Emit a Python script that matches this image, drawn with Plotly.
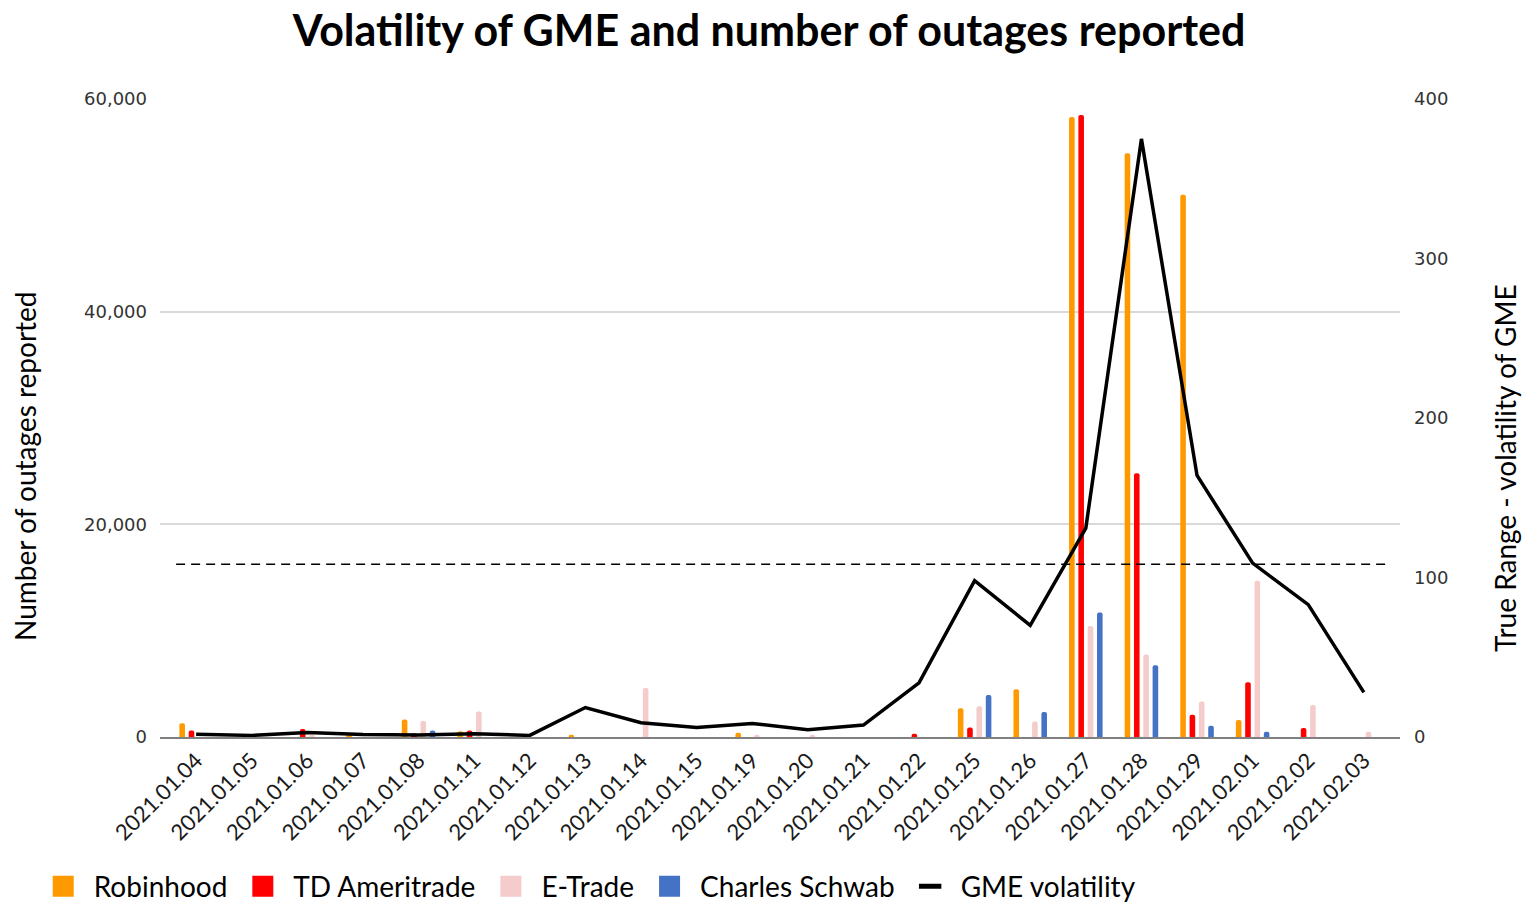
import plotly.graph_objects as go

dates = ["2021.01.04", "2021.01.05", "2021.01.06", "2021.01.07", "2021.01.08", "2021.01.11",
         "2021.01.12", "2021.01.13", "2021.01.14", "2021.01.15", "2021.01.19", "2021.01.20",
         "2021.01.21", "2021.01.22", "2021.01.25", "2021.01.26", "2021.01.27", "2021.01.28",
         "2021.01.29", "2021.02.01", "2021.02.02", "2021.02.03"]

robinhood = [1300, 0, 0, 300, 1650, 550, 0, 200, 0, 0, 400, 0, 0, 0, 2700, 4500,
             58300, 54900, 51000, 1600, 0, 0]
td_ameritrade = [600, 0, 750, 0, 350, 600, 0, 0, 0, 0, 0, 0, 0, 300, 900, 0,
                 58500, 24800, 2100, 5150, 850, 0]
etrade = [0, 0, 100, 0, 1500, 2400, 0, 0, 4600, 0, 200, 200, 0, 0, 2900, 1450,
          10450, 7750, 3350, 14700, 3000, 500]
schwab = [0, 0, 0, 0, 600, 0, 0, 0, 0, 0, 0, 0, 0, 0, 3950, 2350,
          11700, 6750, 1050, 500, 0, 0]
gme_volatility = [1.7, 1, 2.8, 1.5, 1.3, 2, 1, 18.5, 9, 6, 8.5, 4.5, 7.5, 34, 98, 70,
                  131, 375, 164, 109, 83, 28]
threshold = 16250

left_ticks = [0, 20000, 40000, 60000]
right_ticks = [0, 100, 200, 300, 400]

series = [("Robinhood", robinhood, "#FF9900"),
          ("TD Ameritrade", td_ameritrade, "#FF0000"),
          ("E-Trade", etrade, "#F4CCCC"),
          ("Charles Schwab", schwab, "#4472C4")]

FONT = "Lato"
TICK_FONT = "DejaVu Sans"

fig = go.Figure()
for name, vals, col in series:
    fig.add_trace(go.Bar(x=dates, y=vals, name=name, showlegend=False,
                         marker=dict(color=col, line=dict(width=0))))

fig.add_trace(go.Scatter(x=dates, y=gme_volatility, name="GME volatility", yaxis="y2",
                         mode="lines", showlegend=False, line=dict(color="black", width=3.5)))

# legend entries (larger square swatches, like the original)
for name, vals, col in series:
    fig.add_trace(go.Scatter(x=[None], y=[None], name=name, mode="markers",
                             marker=dict(symbol="square", size=16, color=col,
                                         line=dict(color=col, width=5))))
fig.add_trace(go.Scatter(x=[None], y=[None], name="GME volatility", mode="markers",
                         marker=dict(symbol="line-ew", size=18,
                                     line=dict(color="black", width=6))))

fig.add_shape(type="line", xref="x", yref="y", x0=-0.36, x1=21.44, y0=threshold, y1=threshold,
              line=dict(color="black", width=1.5, dash="9px,6px"))

fig.add_annotation(text="Number of outages reported", xref="paper", yref="paper",
                   x=-0.1089, y=0.4248, xanchor="center", yanchor="middle", textangle=-90,
                   showarrow=False, font=dict(family=FONT, size=28, color="black"))
fig.add_annotation(text="True Range - volatility of GME", xref="paper", yref="paper",
                   x=1.0847, y=0.4216, xanchor="center", yanchor="middle", textangle=-90,
                   showarrow=False, font=dict(family=FONT, size=28, color="black"))

fig.update_layout(
    width=1522, height=905,
    paper_bgcolor="white", plot_bgcolor="white",
    margin=dict(l=160, r=122, t=99, b=168),
    barmode="group", bargap=0.33, bargroupgap=0.4, barcornerradius=3,
    title=dict(text="<b>Volatility of GME and number of outages reported</b>",
               x=0.5053, xanchor="center", y=0.9657, yanchor="middle",
               font=dict(family=FONT, size=43, color="black")),
    font=dict(family=FONT, color="black"),
    xaxis=dict(type="category", range=[-0.65, 21.65], tickangle=-45,
               tickfont=dict(family=FONT, size=22, color="#1a1a1a"), showgrid=False,
               showline=True, linecolor="#808080", linewidth=2, ticks=""),
    yaxis=dict(range=[0, 60000], tickvals=left_ticks, tickformat=",",
               tickfont=dict(family=TICK_FONT, size=18, color="#333333"),
               showgrid=True, gridcolor="#d9d9d9", gridwidth=2, zeroline=False,
               ticks="", ticklabelstandoff=12),
    yaxis2=dict(range=[0, 400], tickvals=right_ticks, overlaying="y", side="right",
                tickfont=dict(family=TICK_FONT, size=18, color="#333333"),
                showgrid=False, zeroline=False, ticks="", ticklabelstandoff=13),
    legend=dict(orientation="h", xref="container", yref="container", x=0.0215, y=0.0205,
                xanchor="left", yanchor="middle", font=dict(family=FONT, size=28, color="black"),
                itemwidth=51, traceorder="normal", itemsizing="trace"),
)

fig.write_html("out.html", config={"displayModeBar": False},
               post_script="document.body.style.margin='0';document.body.style.overflow='hidden';")
